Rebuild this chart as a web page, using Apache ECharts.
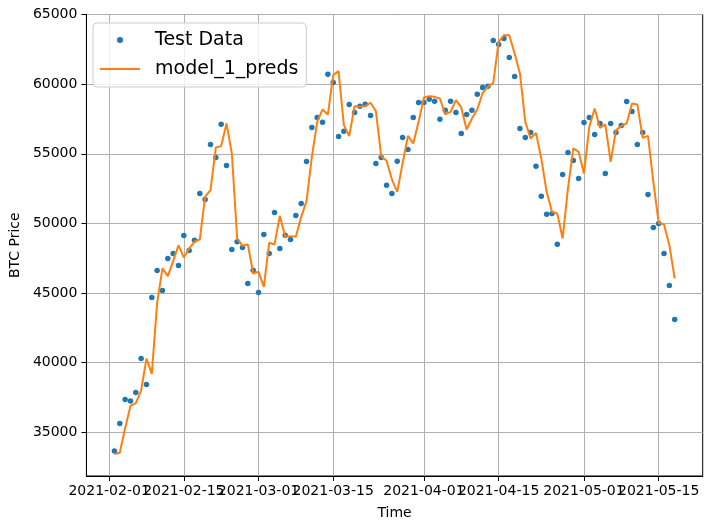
<!DOCTYPE html>
<html><head><meta charset="utf-8">
<script src="https://cdn.jsdelivr.net/npm/echarts@6/dist/echarts.min.js"></script>
<style>html,body{margin:0;padding:0;background:#fff}#c{width:713px;height:529px}</style>
</head><body><div id="c"></div>
<script>
// first date of the daily test series
const startDate = [2021, 1, 2]; // 2021-02-02 (month 0-based)
const testValues = [
33658,35646,37369,37247,37871,40311,38445,44690,46628,45193,
47490,47849,46987,49141,48065,48800,52155,51724,55672,54739,
57129,54164,48135,48680,48278,45694,46649,45049,49211,47848,
50791,48207,49161,48853,50575,51437,54451,56892,57610,57272,
60718,60122,56246,56626,58543,57969,58421,58564,57753,54308,
54739,52750,52154,54460,56174,55313,57610,58686,58686,58923,
58780,57488,58134,58780,57969,56461,57825,58134,59282,59763,
59856,63137,62850,63280,61916,60553,56820,56174,56533,54114,
51961,50669,50719,48515,53518,55097,54523,53231,57251,57610,
56390,57179,53590,57179,56533,57035,58758,58040,55672,56533,
52083,49714,50000,47847,45551,43110];
const predValues = [
33442,33536,35300,36900,37100,38000,40300,39200,44300,46772,
46220,47296,48423,47562,48208,48686,48858,51918,52391,55456,
55550,57179,55026,48924,48393,48494,46411,46527,45450,48610,
48494,50547,49040,49090,49040,50475,51600,54782,57294,58184,
57825,60646,60933,57057,56267,58421,58373,58421,58660,58062,
54832,54495,53159,52269,54308,56289,55744,57294,59045,59139,
59088,58973,57825,58012,58852,58328,56748,57538,58184,59350,
59808,60095,63037,63517,63517,62204,60768,57294,56102,56504,
54667,52269,50834,50719,48924,52513,55385,55140,53590,56935,
58256,56865,57107,54423,56698,56985,57179,58615,58543,56145,
56289,52987,50043,49930,48444,46053];
// x tick labels: month starts and mid-months
const xTickLabelsA = ['2021-02-01','2021-03-01','2021-04-01','2021-05-01'];
const xTickLabelsB = ['2021-02-15','2021-03-15','2021-04-15','2021-05-15'];
const seriesNames = ['Test Data', 'model_1_preds'];

const DAY = 86400000;
const t0 = Date.UTC(startDate[0], startDate[1], startDate[2]);
const dates = testValues.map((_, i) => t0 + i * DAY);
const parseDay = s => { const p = s.split('-').map(Number); return Date.UTC(p[0], p[1] - 1, p[2]); };
const fmt = v => { const d = new Date(v); const p = n => String(n).padStart(2, '0'); return d.getUTCFullYear() + '-' + p(d.getUTCMonth() + 1) + '-' + p(d.getUTCDate()); };
const span = dates[dates.length - 1] - dates[0];
const xMin = dates[0] - span * 0.05;
const xMax = dates[dates.length - 1] + span * 0.05;

const font = 'DejaVu Sans';
const mkX = (labels, withName) => {
  const ticks = labels.map(parseDay);
  return {
    type: 'value', min: xMin, max: xMax, scale: true, position: 'bottom', offset: 0,
    name: withName ? 'Time' : '', nameLocation: 'middle', nameGap: 30,
    nameTextStyle: {fontFamily: font, fontSize: 14, color: '#000'},
    axisLine: {show: true, lineStyle: {color: '#000', width: 1}},
    axisTick: {show: true, inside: false, length: 5, lineStyle: {color: '#000', width: 1}, customValues: ticks},
    axisLabel: {show: true, margin: 8, fontFamily: font, fontSize: 14, color: '#000', customValues: ticks,
      formatter: v => fmt(v), hideOverlap: false},
    splitLine: {show: true, lineStyle: {color: '#b0b0b0', width: 1}}
  };
};

const chart = echarts.init(document.getElementById('c'), null, {renderer: 'canvas'});
chart.setOption({
  animation: false,
  backgroundColor: '#ffffff',
  textStyle: {fontFamily: font},
  grid: {left: 83.3, right: 10.3, top: 14.5, bottom: 53, show: true, borderColor: '#000', borderWidth: 1, backgroundColor: 'transparent'},
  legend: {
    left: 93, top: 23, orient: 'vertical',
    data: [
      {name: seriesNames[0], icon: 'circle'},
      {name: seriesNames[1], icon: 'path://M0,0 L40,0 L40,2 L0,2 Z'}
    ],
    itemWidth: 40, itemHeight: 6, itemGap: 7, symbolKeepAspect: true,
    padding: [6, 8, 7, 7],
    backgroundColor: 'rgba(255,255,255,0.8)', borderColor: '#cccccc', borderWidth: 1, borderRadius: 4,
    formatter: n => '{a|' + n + '}',
    textStyle: {fontFamily: font, fontSize: 19, color: '#000', lineHeight: 22,
      rich: {a: {fontFamily: font, fontSize: 19, color: '#000', lineHeight: 22, padding: [0, 0, 0, 10]}}}
  },
  xAxis: [mkX(xTickLabelsA, true), mkX(xTickLabelsB, false)],
  yAxis: {
    type: 'value', min: 31870, max: 65000, splitNumber: 6,
    name: 'BTC Price', nameLocation: 'middle', nameGap: 62, nameRotate: 90,
    nameTextStyle: {fontFamily: font, fontSize: 14, color: '#000'},
    axisLine: {show: true, lineStyle: {color: '#000', width: 1}},
    axisTick: {show: true, inside: false, length: 5, lineStyle: {color: '#000', width: 1}},
    axisLabel: {show: true, margin: 9, fontFamily: font, fontSize: 14, color: '#000', showMinLabel: false, formatter: v => String(v)},
    splitLine: {show: true, lineStyle: {color: '#b0b0b0', width: 1}}
  },
  series: [
    {name: seriesNames[0], type: 'scatter', xAxisIndex: 0, symbol: 'circle', symbolSize: 5.5,
     itemStyle: {color: '#1f77b4', opacity: 1}, data: dates.map((d, i) => [d, testValues[i]])},
    {name: seriesNames[1], type: 'line', xAxisIndex: 0, symbol: 'none', showSymbol: false,
     lineStyle: {color: '#ff7f0e', width: 2}, itemStyle: {color: '#ff7f0e'},
     data: dates.map((d, i) => [d, predValues[i]])}
  ]
});
</script></body></html>
